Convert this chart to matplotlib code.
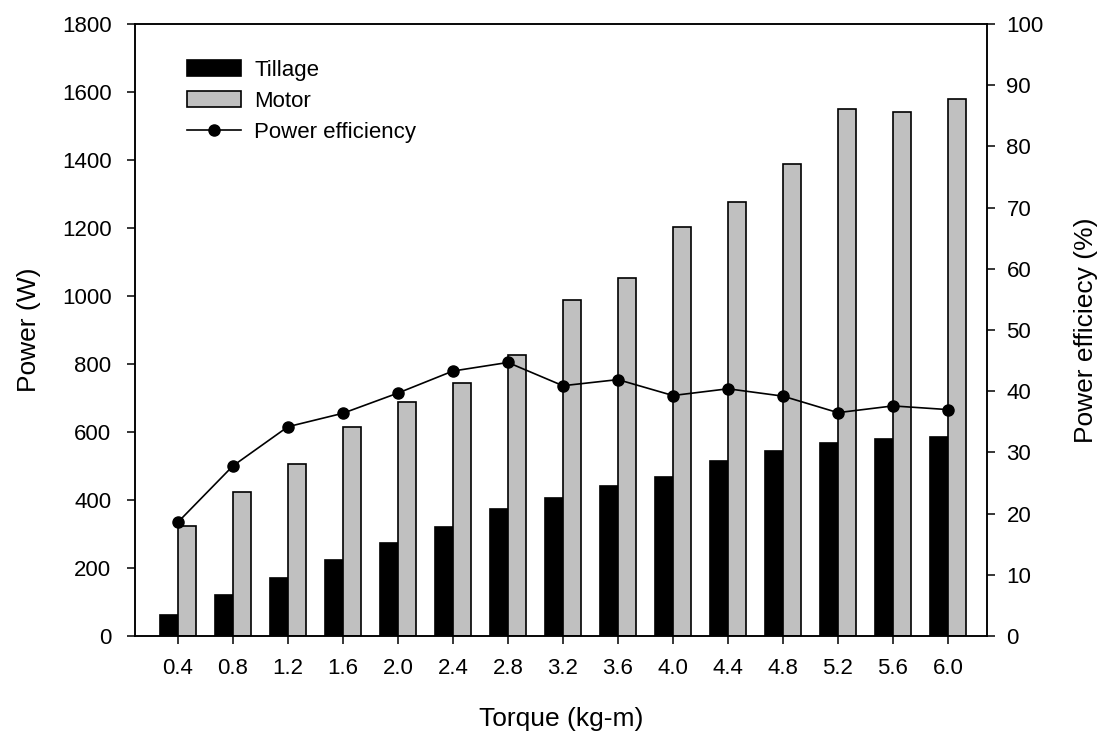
import numpy as np
from matplotlib import pyplot as plt

torque = ['0.4', '0.8', '1.2', '1.6', '2.0', '2.4', '2.8', '3.2',
          '3.6', '4.0', '4.4', '4.8', '5.2', '5.6', '6.0']
tillage = [62, 120, 172, 224, 275, 322, 373, 407, 440, 469, 515, 544, 567, 579, 585]
motor = [324, 423, 505, 614, 687, 745, 826, 988, 1052, 1202, 1276, 1387, 1550, 1542, 1579]
efficiency = [18.6, 27.8, 34.2, 36.4, 39.7, 43.3, 44.7, 40.9, 41.9, 39.3, 40.4, 39.2, 36.5, 37.6, 37.0]

plt.rcParams['font.family'] = ['Liberation Sans', 'DejaVu Sans']
plt.rcParams['axes.linewidth'] = 1.1

fig = plt.figure(figsize=(11.04, 7.33), dpi=100)
ax = fig.add_axes([0.1223, 0.1323, 0.7717, 0.8349])
x = np.arange(len(torque))
w = 0.33

ax.bar(x - w / 2, tillage, w, color='black', edgecolor='black', linewidth=1.2, label='Tillage')
ax.bar(x + w / 2, motor, w, color='#c0c0c0', edgecolor='black', linewidth=1.2, label='Motor')
ax.set_xlim(-0.78, len(torque) - 1 + 0.71)
ax.set_ylim(0, 1800)
ax.set_yticks(range(0, 1801, 200))
ax.set_xticks(x)
ax.set_xticklabels(torque)
ax.tick_params(direction='out', length=6, width=1.1, labelsize=16)
ax.tick_params(axis='y', pad=11)
ax.tick_params(axis='x', pad=10)
ax.set_xlabel('Torque (kg-m)', fontsize=19, labelpad=20)
ax.set_ylabel('Power (W)', fontsize=19, labelpad=15)

ax2 = ax.twinx()
ax2.plot(x, efficiency, '-o', color='black', markersize=8, linewidth=1.2, label='Power efficiency')
ax2.set_ylim(0, 100)
ax2.set_yticks(range(0, 101, 10))
ax2.tick_params(direction='out', length=6, width=1.1, labelsize=16, pad=8)
ax2.set_ylabel('Power efficiecy (%)', fontsize=19, labelpad=22)

h1, l1 = ax.get_legend_handles_labels()
h2, l2 = ax2.get_legend_handles_labels()
ax2.legend(h1 + h2, l1 + l2, loc='upper left', bbox_to_anchor=(0.038, 0.974), frameon=False,
           fontsize=16, handlelength=2.4, handleheight=0.75, labelspacing=0.45,
           handletextpad=0.6)

plt.savefig('out.png')
